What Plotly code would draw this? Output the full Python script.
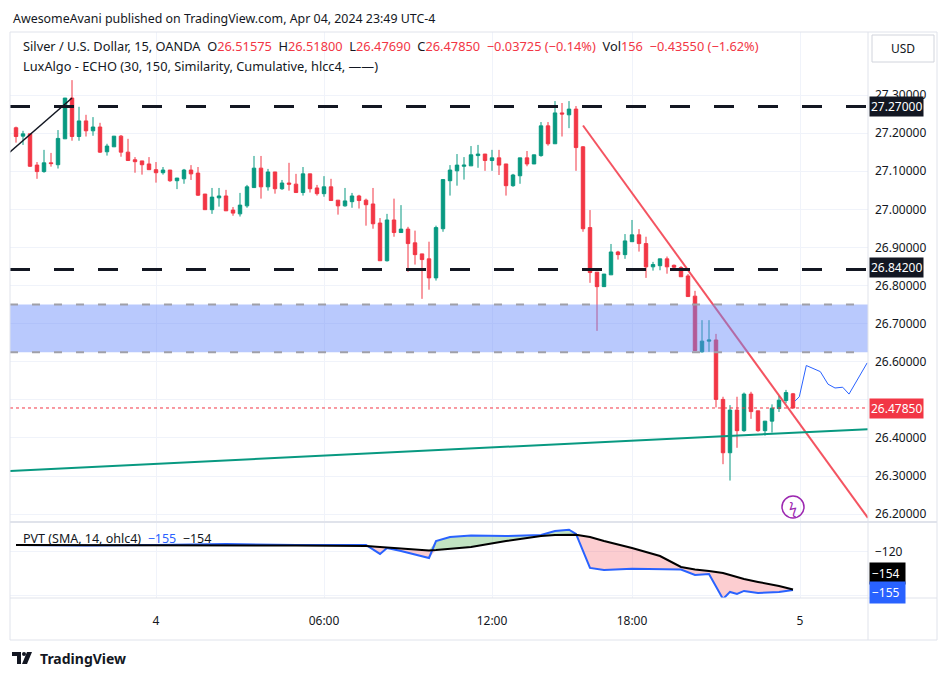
import plotly.graph_objects as go

# 15 min candles, index 0 = 19:00 Apr 3 (17:00-18:00 break skipped)
opens = [27.214, 27.192, 27.198, 27.116, 27.099, 27.122, 27.117, 27.185, 27.292, 27.191,
         27.232, 27.206, 27.216, 27.151, 27.164, 27.192, 27.150, 27.130, 27.127, 27.119,
         27.104, 27.096, 27.103, 27.075, 27.080, 27.103, 27.095, 27.040, 26.999, 27.030,
         27.035, 26.998, 26.988, 27.009, 27.057, 27.108, 27.059, 27.098, 27.054, 27.069,
         27.066, 27.044, 27.093, 27.056, 27.041, 27.059, 27.024, 27.009, 27.020, 27.035,
         27.024, 27.014, 26.964, 26.865, 26.972, 26.939, 26.948, 26.912, 26.883, 26.870,
         26.820, 26.949, 27.075, 27.101, 27.113, 27.114, 27.141, 27.145, 27.128, 27.135,
         27.119, 27.062, 27.088, 27.135, 27.119, 27.141, 27.219, 27.172, 27.253, 27.248,
         27.263, 27.164, 26.952, 26.835, 26.797, 26.828, 26.888, 26.881, 26.915, 26.933,
         26.910, 26.849, 26.852, 26.870, 26.853, 26.847, 26.825, 26.772, 26.626, 26.654,
         26.657, 26.501, 26.361, 26.473, 26.419, 26.515, 26.471, 26.419, 26.444, 26.477,
         26.498, 26.51575]
highs = [27.217, 27.206, 27.198, 27.124, 27.156, 27.148, 27.208, 27.292, 27.339, 27.269,
         27.248, 27.242, 27.227, 27.172, 27.192, 27.195, 27.185, 27.137, 27.127, 27.137,
         27.124, 27.111, 27.103, 27.075, 27.106, 27.116, 27.111, 27.040, 27.056, 27.056,
         27.051, 27.006, 27.043, 27.064, 27.140, 27.140, 27.106, 27.098, 27.077, 27.122,
         27.093, 27.111, 27.093, 27.064, 27.087, 27.080, 27.024, 27.056, 27.043, 27.038,
         27.028, 27.056, 26.977, 26.988, 27.028, 27.011, 26.954, 26.944, 26.883, 26.915,
         26.957, 27.078, 27.116, 27.145, 27.137, 27.166, 27.169, 27.145, 27.156, 27.156,
         27.119, 27.093, 27.135, 27.153, 27.143, 27.229, 27.229, 27.284, 27.279, 27.284,
         27.271, 27.166, 26.998, 26.835, 26.830, 26.909, 26.891, 26.935, 26.972, 26.948,
         26.928, 26.862, 26.870, 26.876, 26.855, 26.851, 26.830, 26.786, 26.709, 26.709,
         26.673, 26.508, 26.486, 26.508, 26.519, 26.521, 26.471, 26.444, 26.488, 26.510,
         26.526, 26.51800]
lows = [27.175, 27.169, 27.111, 27.080, 27.096, 27.112, 27.107, 27.185, 27.180, 27.180,
        27.191, 27.193, 27.148, 27.141, 27.164, 27.138, 27.128, 27.096, 27.091, 27.104,
        27.070, 27.091, 27.072, 27.053, 27.067, 27.077, 27.035, 26.999, 26.988, 27.007,
        26.996, 26.983, 26.981, 27.004, 27.057, 27.028, 27.049, 27.041, 27.051, 27.049,
        27.044, 27.036, 27.044, 27.036, 27.033, 27.023, 26.986, 27.007, 27.004, 27.002,
        26.957, 26.949, 26.865, 26.863, 26.928, 26.939, 26.836, 26.855, 26.765, 26.789,
        26.813, 26.941, 27.036, 27.062, 27.078, 27.114, 27.109, 27.101, 27.101, 27.090,
        27.036, 27.059, 27.067, 27.113, 27.119, 27.138, 27.167, 27.172, 27.191, 27.213,
        27.101, 26.941, 26.807, 26.681, 26.797, 26.828, 26.868, 26.870, 26.915, 26.889,
        26.820, 26.839, 26.840, 26.831, 26.846, 26.823, 26.771, 26.629, 26.624, 26.626,
        26.480, 26.331, 26.288, 26.374, 26.416, 26.450, 26.416, 26.406, 26.414, 26.468,
        26.491, 26.47690]
closes = [27.191, 27.198, 27.113, 27.099, 27.122, 27.120, 27.186, 27.292, 27.191, 27.232,
          27.206, 27.216, 27.150, 27.166, 27.192, 27.150, 27.128, 27.125, 27.117, 27.104,
          27.096, 27.103, 27.075, 27.082, 27.103, 27.093, 27.037, 26.999, 27.032, 27.035,
          26.996, 26.990, 27.011, 27.059, 27.108, 27.059, 27.098, 27.054, 27.069, 27.066,
          27.044, 27.093, 27.054, 27.041, 27.059, 27.023, 27.009, 27.022, 27.035, 27.023,
          27.012, 26.962, 26.865, 26.972, 26.939, 26.948, 26.910, 26.881, 26.868, 26.820,
          26.952, 27.078, 27.103, 27.116, 27.116, 27.143, 27.145, 27.128, 27.135, 27.116,
          27.062, 27.090, 27.135, 27.119, 27.143, 27.219, 27.172, 27.253, 27.250, 27.263,
          27.162, 26.949, 26.834, 26.797, 26.830, 26.888, 26.881, 26.917, 26.933, 26.910,
          26.849, 26.855, 26.870, 26.849, 26.848, 26.823, 26.771, 26.629, 26.654, 26.657,
          26.501, 26.361, 26.473, 26.419, 26.515, 26.469, 26.419, 26.444, 26.478, 26.499,
          26.519, 26.47850]
bar_idx = list(range(len(opens)))

tick_pos = [20, 44, 68, 88, 112]
tick_text = ["4", "06:00", "12:00", "18:00", "5"]
price_ticks = [26.2, 26.3, 26.4, 26.5, 26.6, 26.7, 26.8, 26.9, 27.0, 27.1, 27.2, 27.3]
price_labels = ["26.20000", "26.30000", "26.40000", "", "26.60000", "26.70000", "26.80000",
                "26.90000", "27.00000", "27.10000", "27.20000", "27.30000"]

# ECHO forecast
echo_x = [111.3, 111.9, 112.9, 114.9, 116.0, 117.0, 118.1, 119.0, 121.6]
echo_y = [26.497, 26.508, 26.590, 26.574, 26.541, 26.531, 26.533, 26.515, 26.597]

# PVT pane
pvt_x = [0, 10, 20, 30, 40, 50, 52, 53, 55, 59, 60, 62, 65, 70, 75, 77, 79, 80, 82, 84,
         88, 92, 95, 97, 99, 101, 102, 103, 104, 106, 109, 111]
pvt = [-113.6, -114.0, -113.6, -112.6, -113.6, -113.6, -121.8, -116.3, -119.1, -125.5,
       -109.9, -106.2, -104.8, -105.3, -104.3, -100.7, -99.5, -103.4, -134.7, -136.6,
       -135.4, -135.7, -136.1, -141.2, -140.3, -163.3, -156.8, -158.6, -155.9, -157.8,
       -156.8, -155.0]
pvt_sma = [-113.6, -113.6, -113.6, -113.6, -114.0, -114.5, -115.4, -115.9, -116.3, -118.6,
           -118.2, -117.2, -115.4, -109.9, -105.3, -104.3, -103.9, -104.1, -106.2, -109.9,
           -116.3, -123.7, -133.8, -136.1, -137.5, -139.3, -141.2, -143.0, -144.9, -147.6,
           -151.3, -154.5]

GREEN = "#089981"
RED = "#f23645"
OFF = 8                   # page body margin
W, H = 950 - OFF, 677 - OFF
X0, X1 = 10, 868          # plot pixel bounds (screen coords)
MAIN_TOP, MAIN_BOT = 32, 522
PVT_TOP, PVT_BOT = 523, 598


def px(x):
    return (x - OFF) / W


def py(y):
    return 1 - (y - OFF) / H


fig = go.Figure()

fig.add_trace(go.Candlestick(
    x=bar_idx, open=opens, high=highs, low=lows, close=closes,
    increasing=dict(line=dict(color=GREEN, width=1), fillcolor=GREEN),
    decreasing=dict(line=dict(color=RED, width=1), fillcolor=RED),
    whiskerwidth=0, showlegend=False, hoverinfo="skip"))

fig.add_trace(go.Scatter(x=echo_x, y=echo_y, mode="lines",
                         line=dict(color="#2962ff", width=1), showlegend=False))

# trend lines
fig.add_trace(go.Scatter(x=[81, 121.7], y=[27.22, 26.19], mode="lines",
                         line=dict(color="rgba(242,54,69,0.85)", width=2), showlegend=False))
fig.add_trace(go.Scatter(x=[-0.9, 121.7], y=[26.313, 26.423], mode="lines",
                         line=dict(color=GREEN, width=2), showlegend=False))
fig.add_trace(go.Scatter(x=[-0.9, 8], y=[27.150, 27.292], mode="lines",
                         line=dict(color="#131722", width=1.5), showlegend=False))

# PVT fills
upper = [max(a, b) for a, b in zip(pvt, pvt_sma)]
lower = [min(a, b) for a, b in zip(pvt, pvt_sma)]
fig.add_trace(go.Scatter(x=pvt_x, y=pvt_sma, xaxis="x2", yaxis="y2", mode="lines",
                         line=dict(width=0), showlegend=False))
fig.add_trace(go.Scatter(x=pvt_x, y=upper, xaxis="x2", yaxis="y2", mode="lines",
                         line=dict(width=0), fill="tonexty",
                         fillcolor="rgba(76,175,80,0.35)", showlegend=False))
fig.add_trace(go.Scatter(x=pvt_x, y=pvt_sma, xaxis="x2", yaxis="y2", mode="lines",
                         line=dict(width=0), showlegend=False))
fig.add_trace(go.Scatter(x=pvt_x, y=lower, xaxis="x2", yaxis="y2", mode="lines",
                         line=dict(width=0), fill="tonexty",
                         fillcolor="rgba(242,54,69,0.25)", showlegend=False))
fig.add_trace(go.Scatter(x=pvt_x, y=pvt, xaxis="x2", yaxis="y2", mode="lines",
                         line=dict(color="#2962ff", width=2), showlegend=False))
fig.add_trace(go.Scatter(x=pvt_x, y=pvt_sma, xaxis="x2", yaxis="y2", mode="lines",
                         line=dict(color="#000000", width=2), showlegend=False))

shapes = []
# blue zone (drawn over candles, like the reference)
shapes.append(dict(type="rect", xref="x domain", yref="y", x0=0, x1=1, y0=26.625, y1=26.75,
                   fillcolor="rgba(100,135,250,0.45)", line=dict(width=0), layer="above"))
for lvl in [26.625, 26.75]:
    shapes.append(dict(type="line", xref="x domain", yref="y", x0=0, x1=1, y0=lvl, y1=lvl,
                       line=dict(color="#a0a0a8", width=2, dash="8px,14px")))
for lvl in [27.27, 26.842]:
    shapes.append(dict(type="line", xref="x domain", yref="y", x0=0, x1=1, y0=lvl, y1=lvl,
                       line=dict(color="#131722", width=3, dash="20px,24px")))
shapes.append(dict(type="line", xref="x domain", yref="y", x0=0, x1=1, y0=26.4785, y1=26.4785,
                   line=dict(color=RED, width=1, dash="dot")))
# frame
frame = "#e0e3eb"
shapes.append(dict(type="rect", xref="paper", yref="paper", x0=px(X0), x1=px(937),
                   y0=py(640), y1=py(MAIN_TOP), line=dict(color=frame, width=1)))
shapes.append(dict(type="line", xref="paper", yref="paper", x0=px(X0), x1=px(937),
                   y0=py(MAIN_BOT), y1=py(MAIN_BOT), line=dict(color=frame, width=2)))
shapes.append(dict(type="line", xref="paper", yref="paper", x0=px(X0), x1=px(937),
                   y0=py(PVT_BOT), y1=py(PVT_BOT), line=dict(color=frame, width=1)))
shapes.append(dict(type="line", xref="paper", yref="paper", x0=px(X1), x1=px(X1),
                   y0=py(640), y1=py(MAIN_TOP), line=dict(color=frame, width=1)))
# USD box
shapes.append(dict(type="rect", xref="paper", yref="paper", x0=px(872), x1=px(934),
                   y0=py(62), y1=py(35), line=dict(color="#d1d4dc", width=1)))
# lightning circle
shapes.append(dict(type="circle", xref="paper", yref="paper", x0=px(782), x1=px(804),
                   y0=py(518), y1=py(496), line=dict(color="#9c27b0", width=1.5)))
# TV logo mark
shapes.append(dict(type="path", xref="paper", yref="paper",
                   path=f"M {px(12)} {py(652)} L {px(21)} {py(652)} L {px(21)} {py(664)} L {px(17)} {py(664)} L {px(17)} {py(656)} L {px(12)} {py(656)} Z",
                   fillcolor="#131722", line=dict(width=0)))
shapes.append(dict(type="circle", xref="paper", yref="paper", x0=px(22), x1=px(26),
                   y0=py(656), y1=py(652), fillcolor="#131722", line=dict(width=0)))
shapes.append(dict(type="path", xref="paper", yref="paper",
                   path=f"M {px(27)} {py(652)} L {px(32)} {py(652)} L {px(27)} {py(664)} L {px(22)} {py(664)} Z",
                   fillcolor="#131722", line=dict(width=0)))

FONT = "Noto Sans"
ann = []


def text(x, y, s, size=12, color="#131722", xanchor="left", bg=None, font=FONT, pad=3):
    ann.append(dict(xref="paper", yref="paper", x=px(x), y=py(y), text=s, showarrow=False,
                    xanchor=xanchor, yanchor="middle", font=dict(family=font, size=size, color=color),
                    bgcolor=bg, borderpad=pad))


text(11, 18, "AwesomeAvani published on TradingView.com, Apr 04, 2024 23:49 UTC-4", size=12.4, pad=1)
r = f"<span style='color:{RED}'>"
text(19, 46, "Silver / U.S. Dollar, 15, OANDA  O" + r + "26.51575</span>  H" + r + "26.51800</span>  L"
     + r + "26.47690</span>  C" + r + "26.47850</span>  " + r + "−0.03725 (−0.14%)</span>  Vol"
     + r + "156</span>  " + r + "−0.43550 (−1.62%)</span>", size=12.8)
text(19, 66, "LuxAlgo - ECHO (30, 150, Similarity, Cumulative, hlcc4, ——)", size=12.8)
text(19, 538, "PVT (SMA, 14, ohlc4)  <span style='color:#2962ff'>−155</span>  −154", size=12.5)
text(903, 48, "USD", xanchor="center")
text(793, 507, "ϟ", size=14, color="#9c27b0", xanchor="center")
text(36, 658, "<b>TradingView</b>", size=14)
for s, y, bg in [("27.27000", 106, "#131722"), ("26.84200", 268, "#131722"),
                 ("26.47850", 408, RED)]:
    text(869, y, s, size=12, color="white", bg=bg, pad=1)
text(869, 573, "−154 ", size=12, color="white", bg="#000000", pad=2)
text(869, 592, "−155 ", size=12, color="white", bg="#2962ff", pad=2)

grid = "#f0f3fa"
x_range = [(X0 - 16) / 7, (X1 - 16) / 7]
fig.update_layout(
    width=W, height=H, margin=dict(l=0, r=0, t=0, b=0),
    paper_bgcolor="white", plot_bgcolor="white",
    font=dict(family=FONT, size=12, color="#131722"),
    shapes=shapes, annotations=ann,
    xaxis=dict(domain=[px(X0), px(X1)], range=x_range, anchor="y", rangeslider=dict(visible=False),
               tickvals=tick_pos, showticklabels=False, showgrid=True, gridcolor=grid, zeroline=False),
    xaxis2=dict(domain=[px(X0), px(X1)], range=x_range, anchor="y2", tickvals=tick_pos,
                ticktext=tick_text, showgrid=True, gridcolor=grid, zeroline=False, ticks="",
                ticklabelstandoff=14, tickfont=dict(size=12)),
    yaxis=dict(domain=[py(MAIN_BOT), py(MAIN_TOP)], range=[27.3 - (MAIN_BOT - 95) / 381, 27.3 + (95 - MAIN_TOP) / 381],
               side="right", anchor="x", tickvals=price_ticks, ticktext=price_labels,
               showgrid=True, gridcolor=grid, zeroline=False, ticklabelstandoff=6),
    yaxis2=dict(domain=[py(PVT_BOT), py(PVT_TOP)], range=[-162.4, -93.3], side="right", anchor="x2",
                tickvals=[-120, -160], ticktext=["−120", ""], showgrid=True, gridcolor=grid,
                zeroline=False, ticklabelstandoff=6),
)

fig.write_html("out.html")
